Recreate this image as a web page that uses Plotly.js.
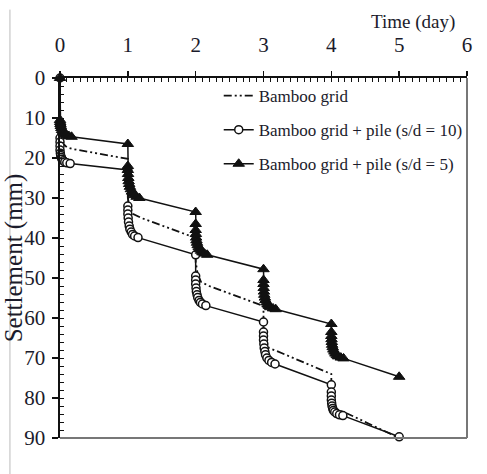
<!DOCTYPE html>
<html>
<head>
<meta charset="utf-8">
<script src="https://cdn.plot.ly/plotly-3.0.1.min.js"></script>
<style>
html,body{margin:0;padding:0;background:#fff;}
#chart{width:487px;height:474px;}
</style>
</head>
<body>
<div id="chart"></div>
<script>
// Time (day) and settlement (mm)
const gridT = [0, 0, 0.02, 0.05, 0.1, 0.2, 1, 1, 1.03, 1.08, 1.2, 2, 2, 2.03, 2.08, 2.2, 3, 3, 3.03, 3.08, 3.2, 4, 4, 4.03, 4.1, 4.25, 5];
const gridS = [0, 12, 15, 16.5, 17.3, 17.8, 20.2, 30, 32.5, 34, 35, 40, 46, 49, 51, 52, 57, 63, 66, 67.5, 68.3, 74, 79, 81.5, 83, 84, 90];

const pile10T = [0, 0, 0, 0, 0, 0.005, 0.01, 0.02, 0.03, 0.05, 0.07, 0.1, 0.15,
                 1, 1, 1, 1, 1.005, 1.01, 1.02, 1.03, 1.05, 1.07, 1.1, 1.15,
                 2, 2, 2, 2, 2.005, 2.01, 2.02, 2.03, 2.05, 2.07, 2.1, 2.15,
                 3, 3, 3, 3, 3.005, 3.01, 3.02, 3.03, 3.05, 3.08, 3.12, 3.17,
                 4, 4, 4, 4, 4.005, 4.01, 4.02, 4.03, 4.05, 4.08, 4.12, 4.17, 5];
const pile10S = [0, 15, 16, 17, 18, 18.8, 19.4, 19.9, 20.3, 20.7, 21, 21.2, 21.4,
                 23, 32, 33, 34, 35, 36, 37, 37.8, 38.5, 39.1, 39.5, 39.9,
                 44.2, 49.5, 50.5, 51.5, 52.5, 53.4, 54.2, 54.9, 55.6, 56.1, 56.5, 56.9,
                 61, 63.5, 64.5, 65.5, 66.5, 67.5, 68.4, 69.2, 70, 70.6, 71.1, 71.5,
                 76.7, 78.5, 79.5, 80.5, 81.3, 82, 82.6, 83.1, 83.5, 83.9, 84.2, 84.4, 89.7];

const pile5T = [0, 0, 0.003, 0.007, 0.012, 0.02, 0.03, 0.045, 0.06, 0.08, 0.1, 0.13, 0.17,
                1, 1, 1, 1.003, 1.007, 1.012, 1.02, 1.03, 1.045, 1.06, 1.08, 1.1, 1.13, 1.17,
                2, 2, 2, 2.003, 2.007, 2.012, 2.02, 2.03, 2.045, 2.06, 2.08, 2.1, 2.13, 2.17,
                3, 3, 3, 3.003, 3.007, 3.012, 3.02, 3.03, 3.045, 3.06, 3.08, 3.1, 3.14, 3.18,
                4, 4, 4, 4.003, 4.007, 4.012, 4.02, 4.03, 4.045, 4.06, 4.08, 4.1, 4.14, 4.18, 5];
const pile5S = [0, 10.5, 11, 11.5, 12, 12.5, 13, 13.4, 13.8, 14.1, 14.3, 14.5, 14.7,
                16.5, 22, 23, 24, 25, 25.8, 26.5, 27.2, 27.8, 28.4, 28.9, 29.3, 29.7, 30,
                33.5, 36.5, 38, 39, 39.9, 40.6, 41.2, 41.8, 42.3, 42.8, 43.2, 43.6, 43.9, 44.2,
                47.8, 50.5, 51.5, 52.5, 53.4, 54.2, 54.9, 55.5, 56.1, 56.6, 57, 57.3, 57.6, 57.8,
                61.5, 63.5, 64.5, 65.3, 66, 66.7, 67.3, 67.9, 68.4, 68.9, 69.3, 69.6, 69.9, 70.1, 74.7];

const names = ["Bamboo grid", "Bamboo grid + pile (s/d = 10)", "Bamboo grid + pile (s/d = 5)"];

const FONT = "Liberation Serif";
const TXT = "#1b1b2b";

const traces = [
  {x: gridT, y: gridS, name: names[0], mode: "lines", legendgroup: "a",
   line: {color: "#111", width: 1.8, dash: "8px,3px,2px,3px,2px,3px"}},
  {x: pile10T, y: pile10S, name: names[1], mode: "lines+markers", legendgroup: "b",
   line: {color: "#111", width: 1.5},
   marker: {symbol: "circle", size: 8, color: "#fff", line: {color: "#111", width: 1.5}}},
  {x: pile5T, y: pile5S, name: names[2], mode: "lines+markers", legendgroup: "c",
   line: {color: "#111", width: 1.5},
   marker: {symbol: "triangle-up", size: 10, color: "#111", line: {color: "#111", width: 1}}}
];
traces.forEach(t => { t.cliponaxis = false; });

const layout = {
  width: 487, height: 474,
  margin: {l: 60, r: 20, t: 78, b: 36, autoexpand: false},
  paper_bgcolor: "#fff", plot_bgcolor: "#fff",
  font: {family: FONT, size: 19, color: TXT},
  showlegend: true,
  legend: {x: 0.39, xanchor: "left", y: 1.0, yanchor: "top",
           bgcolor: "rgba(0,0,0,0)", borderwidth: 0, traceorder: "grouped",
           tracegroupgap: 9, font: {family: FONT, size: 17, color: TXT}},
  xaxis: {side: "top", range: [0, 6], tickmode: "linear", tick0: 0, dtick: 1,
          showgrid: false, zeroline: false, showline: true, linecolor: "#111", linewidth: 2,
          ticks: "outside", ticklen: 5, tickwidth: 1.5, tickcolor: "#111",
          ticklabelstandoff: 11,
          minor: {dtick: 0.1, ticks: "inside", ticklen: 4, tickwidth: 1, tickcolor: "#111", showgrid: false},
          tickfont: {family: FONT, size: 21, color: TXT}},
  yaxis: {range: [90, 0], tickmode: "linear", tick0: 0, dtick: 10,
          showgrid: false, zeroline: false, showline: true, linecolor: "#111", linewidth: 2.5,
          ticks: "outside", ticklen: 6, tickwidth: 1.5, tickcolor: "#111",
          ticklabelstandoff: 2,
          minor: {dtick: 2, ticks: "inside", ticklen: 4, tickwidth: 1, tickcolor: "#111", showgrid: false},
          tickfont: {family: FONT, size: 21, color: TXT},
          title: {text: "Settlement (mm)", standoff: 0, font: {family: FONT, size: 25, color: TXT}}},
  annotations: [
    {text: "Time (day)", xref: "paper", yref: "paper", x: 0.975, y: 1.155,
     xanchor: "right", yanchor: "middle", showarrow: false,
     font: {family: FONT, size: 19, color: TXT}}
  ],
  shapes: [
    {type: "line", xref: "paper", yref: "paper", x0: 1, x1: 1, y0: 0, y1: 1, line: {color: "#777", width: 2}},
    {type: "line", xref: "paper", yref: "paper", x0: 0, x1: 1, y0: 0, y1: 0, line: {color: "#777", width: 2}},
    {type: "line", xref: "paper", yref: "paper", x0: -0.123, x1: -0.123, y0: -0.1, y1: 1.19, line: {color: "#bbb", width: 1}}
  ]
};

Plotly.newPlot("chart", traces, layout, {displayModeBar: false, staticPlot: true});
</script>
</body>
</html>
